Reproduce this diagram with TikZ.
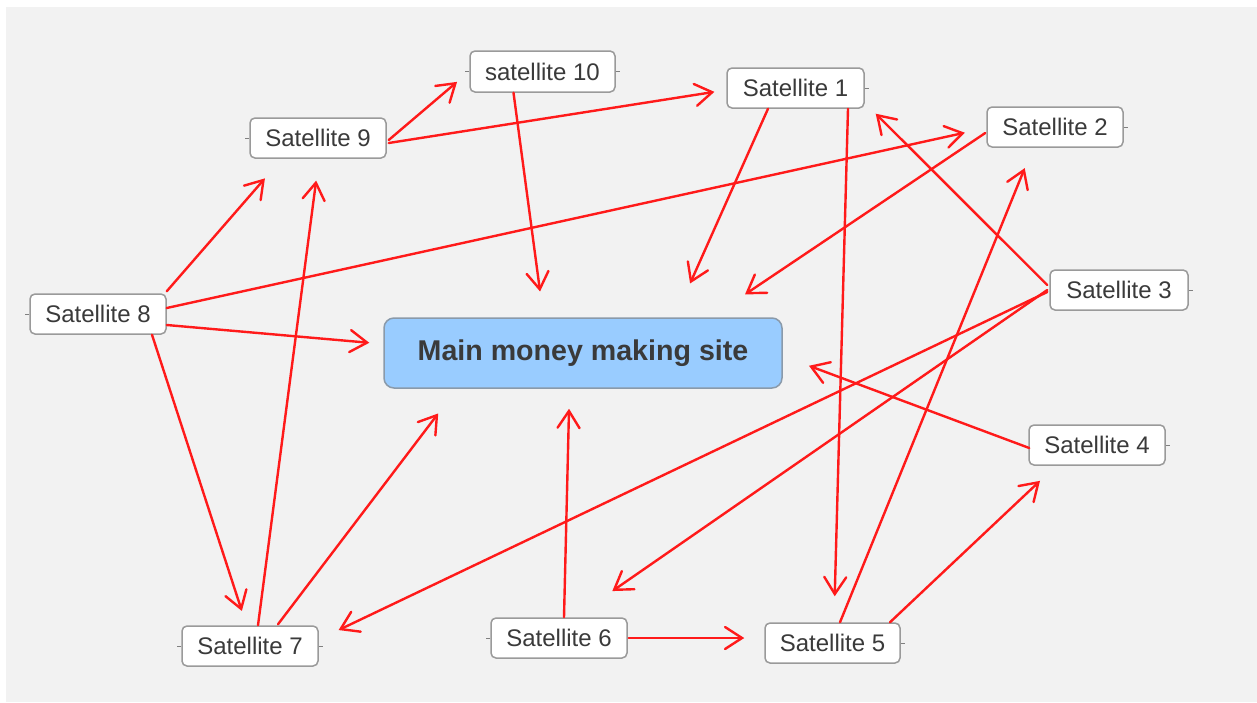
\documentclass[tikz,border=0pt]{standalone}
\usepackage{fontspec}
\setmainfont{Liberation Sans}
\usetikzlibrary{arrows.meta,calc}
\definecolor{bggray}{HTML}{F2F2F2}
\definecolor{boxborder}{HTML}{9A9A9A}
\definecolor{txtgray}{HTML}{3A3A3A}
\definecolor{mainblue}{HTML}{99CCFF}
\definecolor{mainborder}{HTML}{8A9AAA}
\definecolor{arrowred}{HTML}{FF1A1A}
\tikzset{
  sat/.style={draw=boxborder, line width=0.75pt, fill=white, rounded corners=2.5pt,
    minimum width=68pt, minimum height=20pt, inner xsep=0pt, inner ysep=0pt,
    text=txtgray, font=\fontsize{12}{14}\selectfont},
  mainbox/.style={draw=mainborder, line width=0.75pt, fill=mainblue, rounded corners=5pt,
    minimum width=199pt, minimum height=35pt, inner sep=0pt,
    text=txtgray, font=\fontsize{14.3}{17}\selectfont\bfseries},
  link/.style={draw=arrowred, line width=1.2pt, line cap=round,
    -{Straight Barb[length=8.5pt,width=11pt,line cap=round]}},
  stub/.style={draw=gray, line width=0.5pt}
}
\begin{document}
\begin{tikzpicture}[x=0.5pt,y=-0.5pt]
\useasboundingbox (0,0) rectangle (1257,702);
\fill[white] (0,0) rectangle (1257,702);
\fill[bggray] (6,7) rectangle (1257,702);

% nodes
\node[mainbox] (main) at (583,353) {Main money making site};
\node[sat] (s9) at (318,138) {Satellite 9};
\node[sat, minimum width=72.5pt, minimum height=20.5pt] (s10) at (542.5,71.5) {satellite 10};
\node[sat, minimum width=68.5pt] (s1) at (795.5,88) {Satellite 1};
\node[sat] (s2) at (1055,127) {Satellite 2};
\node[sat, minimum width=69pt] (s3) at (1119,290) {Satellite 3};
\node[sat] (s4) at (1097,445) {Satellite 4};
\node[sat, minimum width=67.5pt] (s5) at (832.5,643) {Satellite 5};
\node[sat] (s6) at (559,638) {Satellite 6};
\node[sat] (s7) at (250,646) {Satellite 7};
\node[sat] (s8) at (98,314) {Satellite 8};

% small side stubs
\draw[stub] (s9.west) -- ++(-4,0);
\draw[stub] (s10.west) -- ++(-4,0);
\draw[stub] (s10.east) -- ++(4,0);
\draw[stub] (s1.east) -- ++(4,0);
\draw[stub] (s2.east) -- ++(4,0);
\draw[stub] (s3.east) -- ++(4,0);
\draw[stub] (s4.east) -- ++(4,0);
\draw[stub] (s5.east) -- ++(4,0);
\draw[stub] (s6.west) -- ++(-4,0);
\draw[stub] (s7.west) -- ++(-4,0);
\draw[stub] (s7.east) -- ++(4,0);
\draw[stub] (s8.west) -- ++(-4,0);

% connectors
\draw[link, shorten >=8pt] ($(s9.east)+(2,2)$) -- (s10.west);
\draw[link, shorten >=6pt] ($(s9.east)+(2,5)$) -- ($(s1.west)+(0,2)$);
\draw[link, shorten >=13pt] ($(s10.south)+(-29,0)$) -- ($(main.north)+(-39.5,0)$);
\draw[link, shorten >=18.5pt] ($(s1.south)+(-27.5,0)$) -- ($(main.north)+(92,0)$);
\draw[link, shorten >=13pt] ($(s1.south)+(52.5,0)$) -- ($(s5.north)+(1.5,0)$);
\draw[link, shorten >=20.5pt] ($(s2.west)+(-1,6)$) -- ($(main.north)+(128,0)$);
\draw[link, shorten >=3.5pt] ($(s3.west)+(-2,-5)$) -- ($(s1.south east)+(6,0)$);
\draw[link, shorten >=23pt] ($(s3.west)+(-2,0)$) -- ($(s6.north)+(15.5,0)$);
\draw[link, shorten >=11pt] ($(s3.west)+(-2,2)$) -- ($(s7.east)+(0,-6.5)$);
\draw[link, shorten >=14pt] ($(s4.west)+(1,3)$) -- ($(main.east)+(0,3)$);
\draw[link, shorten >=11pt] ($(s5.north)+(7.5,0)$) -- ($(s2.south)+(-22,0)$);
\draw[link, shorten >=11pt] ($(s5.north)+(57.5,0)$) -- ($(s4.south)+(-41,0)$);
\draw[link, shorten >=10pt] ($(s6.north)+(5,0)$) -- ($(main.south)+(-13.5,0)$);
\draw[link, shorten >=10pt] ($(s6.east)+(1,0)$) -- ($(s5.west)+(0,-5)$);
\draw[link, shorten >=11pt] ($(s7.north)+(8,0)$) -- ($(s9.south)+(1,0)$);
\draw[link, shorten >=15.5pt] ($(s7.north)+(28,-1)$) -- ($(main.south)+(-126,0)$);
\draw[link, shorten >=13pt] ($(s8.north east)+(0,-2)$) -- ($(s9.south)+(-36,0)$);
\draw[link, shorten >=11pt] ($(s8.east)+(0,-6)$) -- ($(s2.west)+(0,1)$);
\draw[link, shorten >=7pt] ($(s8.east)+(0,11)$) -- ($(main.west)+(0,-9)$);
\draw[link, shorten >=7.5pt] ($(s8.south)+(54,0)$) -- ($(s7.north)+(-3.5,0)$);
\end{tikzpicture}
\end{document}
